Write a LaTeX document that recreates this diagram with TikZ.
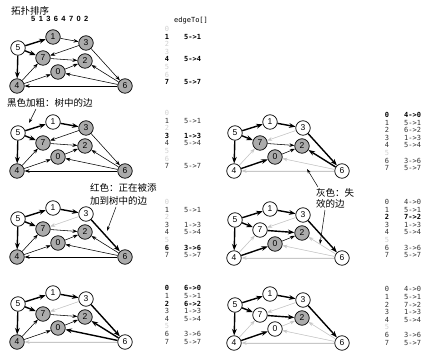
\documentclass[tikz,border=0pt]{standalone}
\usepackage{fontspec}
\setmainfont{Liberation Sans}
\newfontfamily\cjk{Noto Sans CJK SC}
\newfontfamily\mono{DejaVu Sans Mono}
\usetikzlibrary{arrows.meta}
\tikzset{
 v/.style={circle,draw,line width=0.7pt,minimum size=14.5pt,inner sep=0pt,font=\fontsize{8.5}{8.5}\selectfont},
 vw/.style={v,fill=white},
 vg/.style={v,fill=black!33},
 edThin/.style={-{Stealth[length=5pt,width=3.6pt]},line width=0.55pt},
 edTree/.style={-{Stealth[length=6.5pt,width=4.8pt]},line width=1.4pt},
 edGone/.style={edThin,draw=black!22,fill=black!22},
 tb/.style={inner sep=0pt,font=\mono\fontsize{7}{7}\selectfont},
 rf/.style={text=black!18},
 rg/.style={text=black!80},
 rb/.style={font=\mono\bfseries\fontsize{7}{7}\selectfont},
 lab/.style={font=\cjk\fontsize{9.5}{11}\selectfont,inner sep=0pt,anchor=west},
 note/.style={-{Stealth[length=4.5pt,width=3pt]},line width=0.5pt},
}
\newcommand\gpanel[9]{%
 \node[#2] (#1-0) at (58,72) {0};
 \node[#3] (#1-1) at (53,37) {1};
 \node[#4] (#1-2) at (85,61) {2};
 \node[#5] (#1-3) at (86,43) {3};
 \node[#6] (#1-4) at (17,86) {4};
 \node[#7] (#1-5) at (18,48) {5};
 \node[#8] (#1-6) at (125,86) {6};
 \node[#9] (#1-7) at (43,58) {7};
}
\newcommand\gedges[2]{\foreach \a/\b/\s in {#2}{\draw[\s] (#1-\a) -- (#1-\b);}}
\newcommand\etable[4]{%
 \foreach \i/\t/\s in {#4}{%
   \node[tb,\s,anchor=base] (#1i\i) at (#2,{#3+\i*7.6}) {\i};
   \node[tb,\s,anchor=base west] (#1e\i) at ({#2+17},{#3+\i*7.6}) {\t};
 }}
\newcommand\sq{\hspace{3.4pt}}
\begin{document}
\begin{tikzpicture}[x=1pt,y=-1pt]
\fill[white] (0,0) rectangle (421,352);
\useasboundingbox (0,0) rectangle (421,352);

\node[lab] (title) at (11,11) {拓扑排序};
\node[inner sep=0pt,font=\bfseries\fontsize{7.5}{7.5}\selectfont,anchor=west] (order) at (31,18.5) {5\sq1\sq3\sq6\sq4\sq7\sq0\sq2};
\node[tb,anchor=west] (hdr) at (174,21) {edgeTo[]};

% ---------- panel L1
\gpanel{a}{vg}{vg}{vg}{vg}{vg}{vw}{vg}{vg}
\gedges{a}{5/1/edTree,5/4/edTree,5/7/edTree,1/3/edThin,3/7/edThin,3/6/edThin,7/2/edThin,4/7/edThin,4/0/edThin,0/2/edThin,6/2/edThin,6/0/edThin,6/4/edThin}
\etable{ta}{167}{31.5}{0//rf,1/5->1/rb,2//rf,3//rf,4/5->4/rb,5//rf,6//rf,7/5->7/rb}

% ---------- panel L2
\begin{scope}[shift={(0,85)}]
\gpanel{b}{vg}{vw}{vg}{vg}{vg}{vw}{vg}{vg}
\end{scope}
\gedges{b}{5/1/edTree,5/4/edTree,5/7/edTree,1/3/edTree,3/7/edThin,3/6/edThin,7/2/edThin,4/7/edThin,4/0/edThin,0/2/edThin,6/2/edThin,6/0/edThin,6/4/edThin}
\etable{tb}{167}{115.5}{0//rf,1/5->1/rg,2//rf,3/1->3/rb,4/5->4/rg,5//rf,6//rf,7/5->7/rg}

% ---------- panel L3
\begin{scope}[shift={(0,171)}]
\gpanel{c}{vg}{vw}{vg}{vw}{vg}{vw}{vg}{vg}
\end{scope}
\gedges{c}{5/1/edTree,5/4/edTree,5/7/edTree,1/3/edTree,3/7/edGone,3/6/edTree,7/2/edThin,4/7/edThin,4/0/edThin,0/2/edThin,6/2/edThin,6/0/edThin,6/4/edThin}
\etable{tc}{167}{204.5}{0//rf,1/5->1/rg,2//rf,3/1->3/rg,4/5->4/rg,5//rf,6/3->6/rb,7/5->7/rg}

% ---------- panel L4
\begin{scope}[shift={(0,256)}]
\gpanel{d}{vg}{vw}{vg}{vw}{vg}{vw}{vw}{vg}
\end{scope}
\gedges{d}{5/1/edTree,5/4/edTree,5/7/edTree,1/3/edTree,3/7/edGone,3/6/edTree,7/2/edThin,4/7/edThin,4/0/edThin,0/2/edThin,6/2/edTree,6/0/edTree,6/4/edGone}
\etable{td}{167}{291}{0/6->0/rb,1/5->1/rg,2/6->2/rb,3/1->3/rg,4/5->4/rg,5//rf,6/3->6/rg,7/5->7/rg}

% ---------- panel R2
\begin{scope}[shift={(217,85)}]
\gpanel{e}{vg}{vw}{vg}{vw}{vw}{vw}{vw}{vg}
\end{scope}
\gedges{e}{5/1/edTree,5/4/edTree,5/7/edTree,1/3/edTree,3/7/edGone,3/6/edTree,7/2/edThin,4/7/edGone,4/0/edTree,0/2/edThin,6/2/edTree,6/0/edGone,6/4/edGone}
\etable{te}{387}{117.5}{0/4->0/rb,1/5->1/rg,2/6->2/rg,3/1->3/rg,4/5->4/rg,5//rf,6/3->6/rg,7/5->7/rg}

% ---------- panel R3
\begin{scope}[shift={(217,172)}]
\gpanel{f}{vg}{vw}{vg}{vw}{vw}{vw}{vw}{vw}
\end{scope}
\gedges{f}{5/1/edTree,5/4/edTree,5/7/edTree,1/3/edTree,3/7/edGone,3/6/edTree,7/2/edTree,4/7/edGone,4/0/edTree,0/2/edThin,6/2/edGone,6/0/edGone,6/4/edGone}
\etable{tf}{387}{204.5}{0/4->0/rg,1/5->1/rg,2/7->2/rb,3/1->3/rg,4/5->4/rg,5//rf,6/3->6/rg,7/5->7/rg}

% ---------- panel R4
\begin{scope}[shift={(217,257)}]
\gpanel{g}{vw}{vw}{vg}{vw}{vw}{vw}{vw}{vw}
\end{scope}
\gedges{g}{5/1/edTree,5/4/edTree,5/7/edTree,1/3/edTree,3/7/edGone,3/6/edTree,7/2/edTree,4/7/edGone,4/0/edTree,0/2/edGone,6/2/edGone,6/0/edGone,6/4/edGone}
\etable{tg}{387}{292}{0/4->0/rg,1/5->1/rg,2/7->2/rg,3/1->3/rg,4/5->4/rg,5//rf,6/3->6/rg,7/5->7/rg}

% ---------- annotations
\node[lab] (n1) at (7,103) {黑色加粗：树中的边};
\coordinate (n1a) at (36,109);
\coordinate (n1b) at (29,123);
\draw[note] (n1a) -- (n1b);

\node[lab] (n2) at (90,188) {红色：正在被添};
\node[lab] (n2b) at (90,201) {加到树中的边};
\coordinate (n2a) at (116,207);
\coordinate (n2c) at (107,231);
\draw[note] (n2a) -- (n2c);

\node[lab] (n3) at (316,193) {灰色：失};
\node[lab] (n3b) at (316,204) {效的边};
\coordinate (n3a) at (318,187);
\coordinate (n3c) at (307,169);
\draw[note] (n3a) -- (n3c);
\coordinate (n3d) at (325,210);
\coordinate (n3e) at (320,244);
\draw[note] (n3d) -- (n3e);
\end{tikzpicture}
\end{document}
